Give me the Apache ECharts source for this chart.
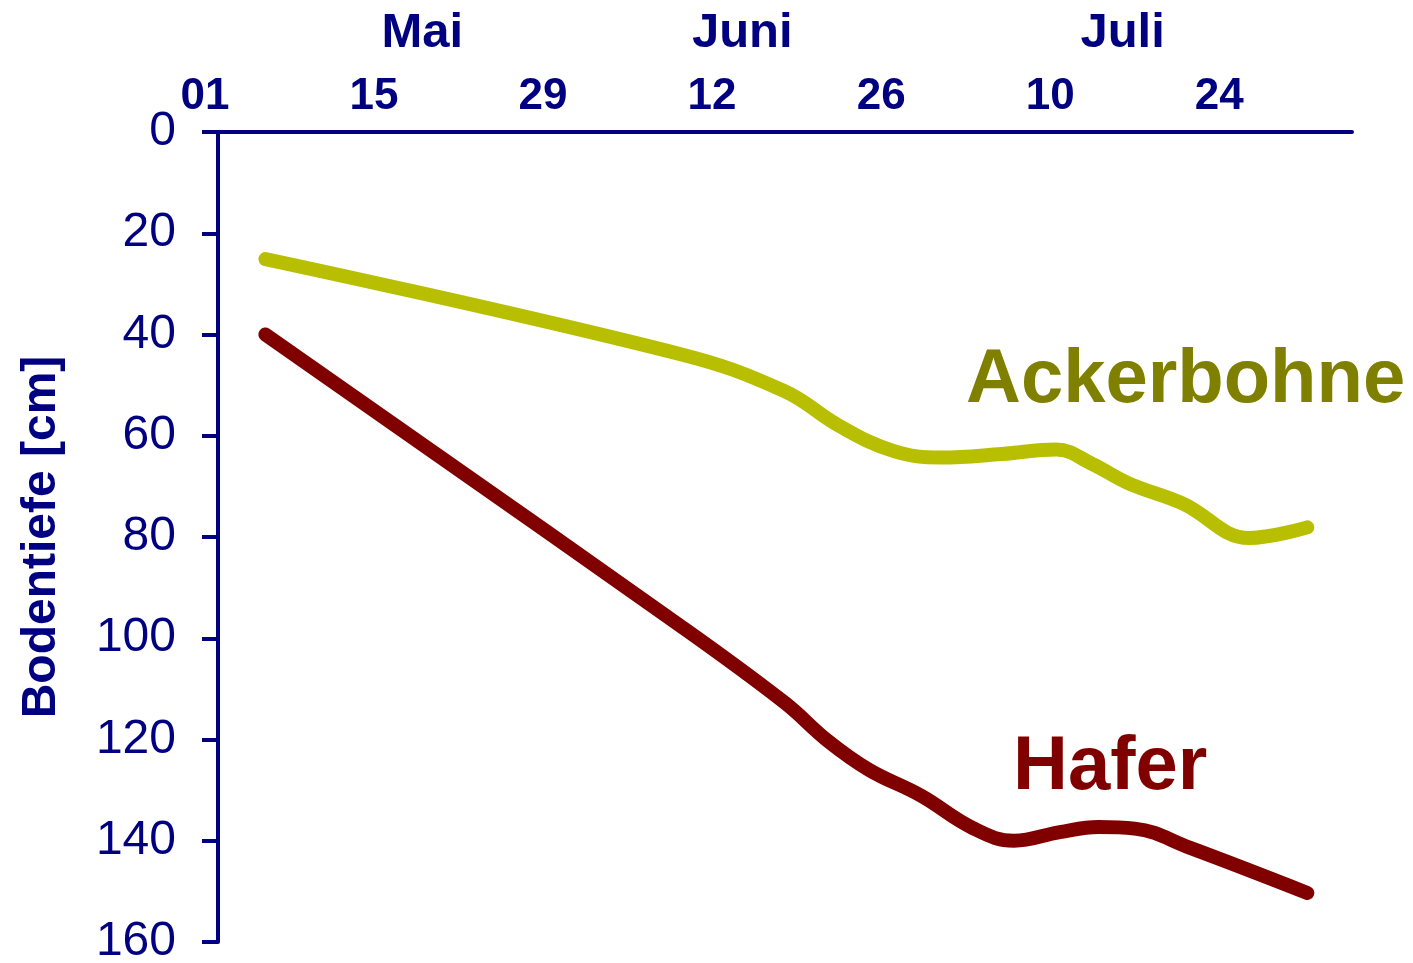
<!DOCTYPE html>
<html><head><meta charset="utf-8">
<script src="https://cdn.jsdelivr.net/npm/echarts@6/dist/echarts.min.js"></script>
<style>html,body{margin:0;padding:0;background:#fff}#c{width:1413px;height:963px}</style>
</head><body><div id="c"></div>
<script>
// x values: days counted from 1 May
const xTickDays = [0, 14, 28, 42, 56, 70, 84];
const xTickLabels = ['01', '15', '29', '12', '26', '10', '24'];
const monthDays = [18, 44.5, 76];
const monthLabels = ['Mai', 'Juni', 'Juli'];

const ackerDays  = [5, 39.4, 48, 52.5, 57, 61, 66, 70.5, 73.5, 76.5, 81, 86.5, 91.3];
const ackerDepth = [25.1, 43.9, 51.2, 58, 63, 64.3, 63.6, 62.7, 65.6, 69.4, 73.4, 80.2, 78.1];

const haferDays  = [5, 39.4, 48, 51.6, 55, 59.3, 63.6, 67, 70.8, 74, 77, 81.6, 91.3];
const haferDepth = [40, 97.6, 112.7, 120.3, 126, 131.1, 137.5, 140, 138.3, 137.3, 137.6, 141.4, 150.3];

const NAVY = '#000080';
const FONT = '"Liberation Sans", Arial, sans-serif';

function pairs(xs, ys) { return xs.map((x, i) => [x, ys[i]]); }

const chart = echarts.init(document.getElementById('c'), null, { renderer: 'canvas' });
chart.setOption({
  animation: false,
  backgroundColor: '#fff',
  grid: { left: 205, right: 61, top: 132, bottom: 21, containLabel: false, outerBoundsMode: 'none' },
  xAxis: [
    {
      type: 'value', position: 'top', min: 0, max: 95,
      axisLine: { show: true, onZero: false, lineStyle: { color: NAVY, width: 4, cap: 'round' } },
      axisTick: { show: false },
      splitLine: { show: false },
      axisLabel: {
        customValues: xTickDays,
        formatter: v => xTickLabels[xTickDays.indexOf(v)],
        showMinLabel: true, showMaxLabel: true,
        color: NAVY, fontSize: 44, fontWeight: 'bold', fontFamily: FONT, margin: 13
      }
    },
    {
      type: 'value', position: 'top', min: 0, max: 95,
      axisLine: { show: false, onZero: false },
      axisTick: { show: false },
      splitLine: { show: false },
      axisLabel: {
        customValues: monthDays,
        formatter: v => monthLabels[monthDays.indexOf(v)],
        color: NAVY, fontSize: 49, fontWeight: 'bold', fontFamily: FONT, margin: 74
      }
    }
  ],
  yAxis: {
    type: 'value', inverse: true, min: 0, max: 160, interval: 20,
    position: 'left', offset: -13,
    axisLine: { show: true, onZero: false, lineStyle: { color: NAVY, width: 4 } },
    axisTick: { show: true, inside: false, length: 16, lineStyle: { color: NAVY, width: 4 } },
    splitLine: { show: false },
    axisLabel: { color: NAVY, fontSize: 48, fontFamily: FONT, margin: 42 },
    name: 'Bodentiefe [cm]', nameLocation: 'middle', nameRotate: 90, nameGap: 152,
    nameTextStyle: { color: NAVY, fontSize: 48, fontWeight: 'bold', fontFamily: FONT }
  },
  series: [
    {
      name: 'Ackerbohne', type: 'line', xAxisIndex: 0, smooth: 0.4,
      showSymbol: false, symbol: 'none',
      data: pairs(ackerDays, ackerDepth),
      lineStyle: { color: '#B8BF00', width: 14, cap: 'round', join: 'round' }
    },
    {
      name: 'Hafer', type: 'line', xAxisIndex: 0, smooth: 0.4,
      showSymbol: false, symbol: 'none',
      data: pairs(haferDays, haferDepth),
      lineStyle: { color: '#800000', width: 14, cap: 'round', join: 'round' }
    }
  ],
  graphic: [
    { type: 'text', x: 966, y: 381, style: { text: 'Ackerbohne', font: 'bold 76px ' + FONT, fill: '#808000', align: 'left', verticalAlign: 'middle' } },
    { type: 'text', x: 1013, y: 768, style: { text: 'Hafer', font: 'bold 76px ' + FONT, fill: '#800000', align: 'left', verticalAlign: 'middle' } }
  ]
});
</script></body></html>
